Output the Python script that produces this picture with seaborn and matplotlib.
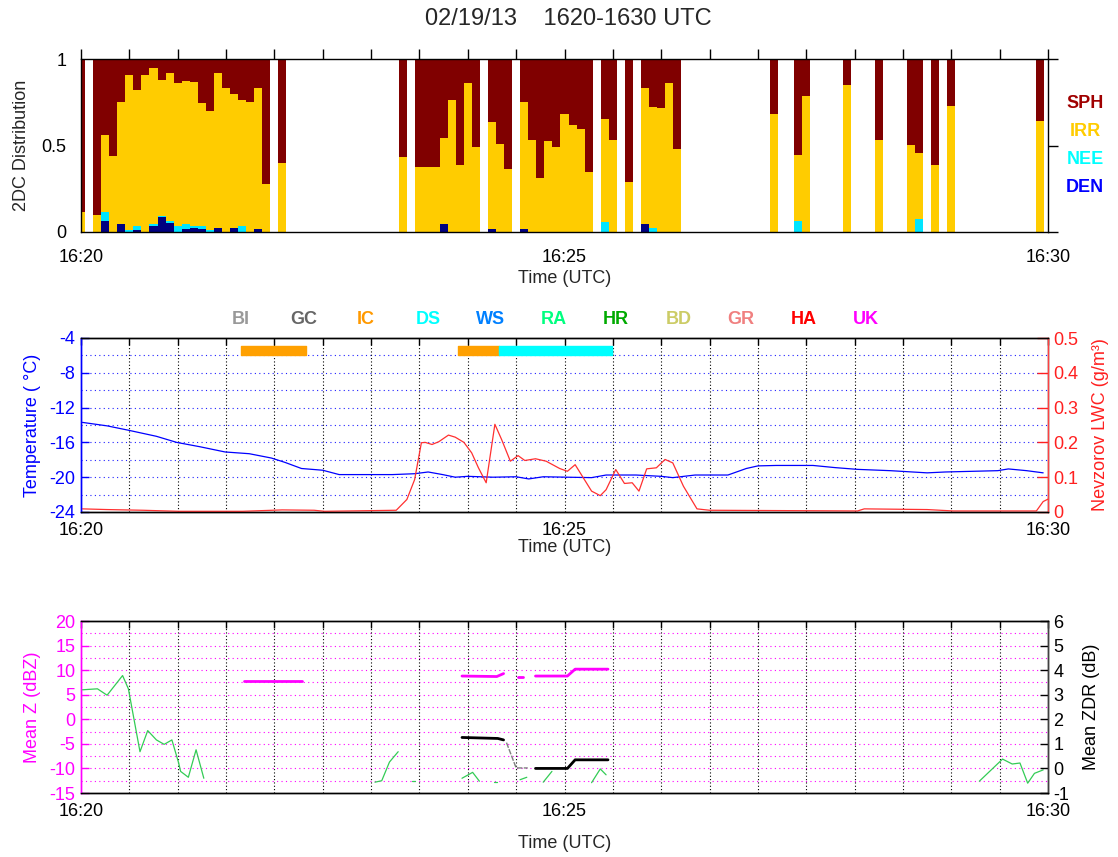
import matplotlib
matplotlib.use("Agg")
import matplotlib.pyplot as plt
import numpy as np
import pandas as pd
import seaborn as sns


TITLE = "02/19/13    1620-1630 UTC"
TIME_TICKS = [0, 5, 10]
TIME_TICK_LABELS = ["16:20", "16:25", "16:30"]

# 2DC habit fractions in 5 s bins (seconds after 16:20:00)
BIN_SEC = [0, 10, 15, 20, 25, 30, 35, 40, 45, 50, 55, 60, 65, 70, 75, 80, 85, 90, 95, 100, 105, 110, 115, 125,
           200, 210, 215, 220, 225, 230, 235, 240, 245,
           255, 260, 265,
           275, 280, 285, 290, 295, 300, 305, 310, 315,
           325, 330, 340,
           350, 355, 360, 365, 370,
           430, 445, 450, 475, 495, 515, 520, 530, 540, 595]
DEN = [0, 0, 0.062, 0, 0.044, 0, 0.010, 0, 0.033, 0.087, 0.052, 0, 0.015, 0.025, 0.020, 0, 0.025, 0, 0.025, 0, 0, 0.020, 0, 0,
       0, 0, 0, 0, 0.044, 0, 0, 0, 0,
       0.020, 0, 0,
       0.020, 0, 0, 0, 0, 0, 0, 0, 0,
       0, 0, 0,
       0.048, 0, 0, 0, 0,
       0, 0, 0, 0, 0, 0, 0, 0, 0, 0]
NEE = [0, 0, 0.054, 0, 0, 0.010, 0.023, 0, 0.015, 0.006, 0.010, 0.033, 0.033, 0.012, 0.013, 0.010, 0, 0, 0, 0.033, 0, 0, 0, 0,
       0, 0, 0, 0, 0, 0, 0, 0, 0,
       0, 0, 0,
       0, 0, 0, 0, 0, 0, 0, 0, 0,
       0.056, 0, 0,
       0, 0.025, 0, 0, 0,
       0, 0.062, 0, 0, 0, 0, 0.073, 0, 0, 0]
IRR = [0.116, 0.100, 0.444, 0.440, 0.706, 0.900, 0.787, 0.910, 0.902, 0.783, 0.858, 0.827, 0.822, 0.828, 0.712, 0.690,
       0.895, 0.835, 0.775, 0.732, 0.750, 0.815, 0.275, 0.400,
       0.435, 0.375, 0.375, 0.375, 0.501, 0.762, 0.389, 0.859, 0.491,
       0.616, 0.509, 0.364,
       0.730, 0.532, 0.310, 0.526, 0.491, 0.683, 0.617, 0.598, 0.344,
       0.596, 0.532, 0.290,
       0.786, 0.695, 0.714, 0.859, 0.482,
       0.683, 0.385, 0.785, 0.847, 0.532, 0.503, 0.382, 0.387, 0.731, 0.642]
HABITS = ["SPH", "IRR", "NEE", "DEN"]
HABIT_COLORS = {"SPH": "#800000", "IRR": "#ffcc00", "NEE": "#00e5ff", "DEN": "#000080"}
HABIT_TEXT_COLORS = {"SPH": "#a00000", "IRR": "#ffcc00", "NEE": "#00ffff", "DEN": "#0000ff"}

# hydrometeor class names shown above the middle panel
CLASSES = ["BI", "GC", "IC", "DS", "WS", "RA", "HR", "BD", "GR", "HA", "UK"]
CLASS_COLORS = ["#999999", "#666666", "#ff9900", "#00ffff", "#0080ff", "#00ff80",
                "#00aa00", "#cccc66", "#f08080", "#ff0000", "#ff00ff"]
CLASS_BAR_NAME = ["IC", "IC", "DS"]
CLASS_BAR_START = [1.65, 3.90, 4.32]   # minutes after 16:20
CLASS_BAR_END = [2.33, 4.32, 5.49]

# temperature (C), minutes after 16:20
TEMP_T = [0.015, 0.27, 0.49, 0.78, 0.99, 1.23, 1.49, 1.74, 1.97, 2.11, 2.28, 2.50, 2.67, 2.85, 3.22, 3.45, 3.59, 3.74,
          3.87, 4.0, 4.26, 4.50, 4.63, 4.78, 5.28, 5.43, 5.74, 6.0, 6.12, 6.35, 6.69, 6.88, 7.0, 7.19, 7.57, 7.80,
          8.03, 8.37, 8.75, 8.94, 9.48, 9.59, 9.78, 9.95]
TEMP_C = [-13.7, -14.1, -14.6, -15.3, -16.0, -16.5, -17.1, -17.3, -17.8, -18.3, -19.0, -19.2, -19.7, -19.7, -19.7,
          -19.6, -19.4, -19.7, -20.0, -19.9, -20.0, -19.95, -20.2, -19.95, -20.05, -19.75, -19.75, -19.9, -20.05,
          -19.75, -19.75, -19.0, -18.7, -18.65, -18.65, -18.9, -19.1, -19.25, -19.5, -19.4, -19.25, -19.05, -19.25,
          -19.5]

# Nevzorov LWC (g/m3)
LWC_T = [0.015, 0.27, 0.64, 1.01, 1.67, 2.08, 2.41, 2.52, 3.26, 3.37, 3.45, 3.52, 3.56, 3.63, 3.70, 3.80, 3.87, 3.96,
         4.04, 4.11, 4.19, 4.28, 4.35, 4.44, 4.52, 4.59, 4.70, 4.81, 4.95, 5.03, 5.11, 5.28, 5.37, 5.43, 5.53, 5.62,
         5.70, 5.77, 5.85, 5.95, 6.04, 6.12, 6.23, 6.37, 6.50, 8.03, 8.10, 8.75, 9.02, 9.88, 9.95, 10.0]
LWC = [0.009, 0.007, 0.005, 0.002, 0.002, 0.006, 0.005, 0.002, 0.005, 0.036, 0.093, 0.199, 0.200, 0.194, 0.202,
       0.221, 0.215, 0.200, 0.170, 0.127, 0.084, 0.252, 0.208, 0.146, 0.162, 0.148, 0.153, 0.146, 0.125, 0.117,
       0.136, 0.060, 0.047, 0.064, 0.122, 0.082, 0.084, 0.060, 0.124, 0.127, 0.151, 0.141, 0.074, 0.009, 0.005,
       0.003, 0.009, 0.007, 0.003, 0.003, 0.030, 0.037]

# green trace (dBZ, left axis), broken into segments
GREEN_SEG = [0] * 15 + [1] * 4 + [2] * 2 + [3] * 3 + [4] * 2 + [5] * 2 + [6] * 2 + [7] * 3 + [8] * 7
GREEN_T = [0.015, 0.17, 0.27, 0.43, 0.49, 0.61, 0.69, 0.78, 0.86, 0.94, 1.01, 1.03, 1.11, 1.19, 1.27,
           3.04, 3.11, 3.19, 3.28,
           3.42, 3.45,
           3.94, 4.05, 4.12,
           4.27, 4.30,
           4.54, 4.61,
           4.78, 4.87,
           5.28, 5.37, 5.43,
           9.29, 9.53, 9.63, 9.71, 9.79, 9.86, 9.95]
GREEN_DBZ = [6.0, 6.2, 4.9, 8.9, 6.2, -6.6, -2.3, -4.2, -5.1, -4.2, -8.9, -10.6, -11.8, -6.2, -12.0,
             -12.8, -12.5, -8.7, -6.6,
             -12.6, -12.6,
             -12.0, -10.8, -12.6,
             -12.8, -12.8,
             -12.3, -11.8,
             -12.8, -10.6,
             -12.9, -10.1, -11.3,
             -12.6, -8.1, -9.1, -8.9, -13.0, -11.0, -10.3]

# mean Z (dBZ)
MEANZ_SEG = [0, 0, 1, 1, 1, 2, 2, 3, 3, 3, 3]
MEANZ_T = [1.69, 2.29, 3.94, 4.30, 4.37, 4.52, 4.57, 4.70, 5.03, 5.11, 5.45]
MEANZ_DBZ = [7.8, 7.8, 8.8, 8.7, 9.3, 8.7, 8.7, 8.8, 8.8, 10.2, 10.2]

# mean ZDR (dB)
ZDR_SEG = [0, 0, 0, 1, 1, 1, 1]
ZDR_T = [3.94, 4.31, 4.37, 4.70, 5.03, 5.11, 5.45]
ZDR_DB = [1.26, 1.22, 1.16, 0.0, 0.0, 0.35, 0.35]
ZDR_GAP_T = [4.40, 4.50, 4.62]
ZDR_GAP_DB = [1.05, 0.02, 0.02]


W, H = 1118, 857


def px_rect(left, top, right, bottom):
    return [left / W, 1 - bottom / H, (right - left) / W, (bottom - top) / H]


def style_time_axis(ax, inward, labelpad):
    ticks = np.arange(0, 10.01, 0.5)
    ax.set_xlim(0, 10)
    ax.set_xticks(ticks)
    ax.set_xticklabels([TIME_TICK_LABELS[TIME_TICKS.index(v)] if v in TIME_TICKS else "" for v in ticks])
    if inward:
        ax.tick_params(axis="x", direction="in", length=5, width=1, top=True, pad=7, labelsize=13, colors="black")
    else:
        ax.tick_params(axis="x", direction="out", length=7, width=1, top=True, pad=5, labelsize=13, colors="black")
    ax.set_xlabel("Time (UTC)", fontsize=13, labelpad=labelpad)


def main() -> None:
    sns.set_theme(style="white")
    plt.rcParams["font.family"] = ["Liberation Sans", "DejaVu Sans"]
    plt.rcParams["axes.linewidth"] = 1.0
    plt.rcParams["axes.unicode_minus"] = False

    fig = plt.figure(figsize=(W / 100, H / 100), dpi=100)
    fig.text(568 / W, 1 - 19 / H, TITLE, ha="center", va="center", fontsize=17)

    # ---- panel 1: 2DC habit distribution
    ax1 = fig.add_axes(px_rect(81, 59, 1048, 232))
    t_bins = np.array(BIN_SEC) / 60.0
    den, nee, irr = np.array(DEN), np.array(NEE), np.array(IRR)
    sph = 1.0 - (den + nee + irr)
    bottom = np.zeros_like(t_bins)
    for name, frac in [("DEN", den), ("NEE", nee), ("IRR", irr), ("SPH", sph)]:
        ax1.bar(t_bins, frac, width=5 / 60.0, bottom=bottom, color=HABIT_COLORS[name], linewidth=0, align="center")
        bottom = bottom + frac
    ax1.set_ylim(0, 1)
    ax1.set_yticks([0, 0.5, 1])
    ax1.set_yticklabels(["0", "0.5", "1"])
    ax1.tick_params(axis="y", direction="out", length=7, width=1, right=True, labelsize=13, colors="black")
    style_time_axis(ax1, inward=False, labelpad=3)
    ax1.set_ylabel("2DC Distribution", fontsize=13, labelpad=8)
    for spine in ax1.spines.values():
        spine.set_color("black")
    for i, name in enumerate(HABITS):
        fig.text(1085 / W, 1 - (103 + i * 28) / H, name, color=HABIT_TEXT_COLORS[name],
                 fontsize=13, fontweight="bold", ha="center", va="center")

    # ---- panel 2: temperature and LWC
    ax2 = fig.add_axes(px_rect(81, 338, 1048, 512))
    ax2r = ax2.twinx()
    dotted = (0, (1, 3))
    for y in np.arange(-22, -4, 2):
        ax2.axhline(y, color="#2020ff", lw=0.8, ls=dotted, zorder=0)
    for x in np.arange(0.5, 10, 0.5):
        ax2.axvline(x, color="black", lw=0.8, ls=(0, (1, 2)), zorder=0)
    for name, start, end in zip(CLASS_BAR_NAME, CLASS_BAR_START, CLASS_BAR_END):
        color = CLASS_COLORS[CLASSES.index(name)]
        if name == "IC":
            color = "#ffa000"
        ax2.broken_barh([(start, end - start)], (-6.0, 1.1), color=color, zorder=2)
    sns.lineplot(x=TEMP_T, y=TEMP_C, ax=ax2, color="#0000ff", linewidth=0.9, zorder=3)
    sns.lineplot(x=LWC_T, y=LWC, ax=ax2r, color="#ff3030", linewidth=0.9)
    ax2.set_ylim(-24, -4)
    ax2.set_yticks(np.arange(-24, -3, 4))
    ax2.tick_params(axis="y", direction="in", length=6, width=1, colors="#0000ff", labelsize=13, pad=4)
    ax2.set_ylabel("Temperature ( °C)", color="#0000ff", fontsize=13, labelpad=6)
    ax2r.set_ylim(0, 0.5)
    ax2r.set_yticks(np.arange(0, 0.51, 0.1))
    ax2r.set_yticklabels(["0", "0.1", "0.2", "0.3", "0.4", "0.5"])
    ax2r.tick_params(axis="y", direction="in", length=8, width=1, colors="#ff2020", labelsize=13, pad=4)
    ax2r.set_ylabel("Nevzorov LWC (g/m³)", color="#ff2020", fontsize=13, labelpad=10)
    style_time_axis(ax2, inward=True, labelpad=0)
    ax2.spines["left"].set_color("#0000ff")
    ax2r.spines["left"].set_color("#0000ff")
    ax2r.spines["right"].set_color("#ff4040")
    for side in ("top", "bottom"):
        ax2.spines[side].set_color("black")
        ax2r.spines[side].set_color("black")
    xs = np.linspace(241, 866, len(CLASSES))
    for name, color, x in zip(CLASSES, CLASS_COLORS, xs):
        fig.text(x / W, 1 - 320 / H, name, color=color, fontsize=13, fontweight="bold", ha="center", va="center")

    # ---- panel 3: mean Z and ZDR
    ax3 = fig.add_axes(px_rect(81, 621, 1048, 793))
    ax3r = ax3.twinx()
    for y in np.arange(-12.5, 20, 2.5):
        ax3.axhline(y, color="#ff00ff", lw=0.8, ls=dotted, zorder=0)
    for x in np.arange(0.5, 10, 0.5):
        ax3.axvline(x, color="black", lw=0.8, ls=(0, (1, 2)), zorder=0)
    green = pd.DataFrame({"t": GREEN_T, "v": GREEN_DBZ, "seg": GREEN_SEG})
    sns.lineplot(data=green, x="t", y="v", units="seg", estimator=None, ax=ax3,
                 color="#33cc55", linewidth=0.9, zorder=3)
    meanz = pd.DataFrame({"t": MEANZ_T, "v": MEANZ_DBZ, "seg": MEANZ_SEG})
    sns.lineplot(data=meanz, x="t", y="v", units="seg", estimator=None, ax=ax3,
                 color="#ff00ff", linewidth=2.0, zorder=4)
    zdr = pd.DataFrame({"t": ZDR_T, "v": ZDR_DB, "seg": ZDR_SEG})
    sns.lineplot(x=ZDR_GAP_T, y=ZDR_GAP_DB, ax=ax3r, color="#808080", linewidth=1.0, linestyle=(0, (4, 1)))
    sns.lineplot(data=zdr, x="t", y="v", units="seg", estimator=None, ax=ax3r,
                 color="black", linewidth=2.0)
    ax3.set_ylim(-15, 20)
    ax3.set_yticks(np.arange(-15, 21, 5))
    ax3.tick_params(axis="y", direction="in", length=6, width=1, colors="#ff00ff", labelsize=13, pad=4)
    ax3.set_ylabel("Mean Z (dBZ)", color="#ff00ff", fontsize=13, labelpad=6)
    ax3r.set_ylim(-1, 6)
    ax3r.set_yticks(np.arange(-1, 7, 1))
    ax3r.tick_params(axis="y", direction="in", length=6, width=1, colors="black", labelsize=13, pad=4)
    ax3r.set_ylabel("Mean ZDR (dB)", color="black", fontsize=13, labelpad=10)
    style_time_axis(ax3, inward=True, labelpad=11)
    ax3r.spines["left"].set_color("#ff00ff")
    ax3.spines["left"].set_color("#ff00ff")
    for side in ("top", "bottom", "right"):
        ax3.spines[side].set_color("black")
        ax3r.spines[side].set_color("#404040" if side == "right" else "black")

    fig.savefig("out.png", dpi=100)
    plt.close(fig)


if __name__ == "__main__":
    main()
